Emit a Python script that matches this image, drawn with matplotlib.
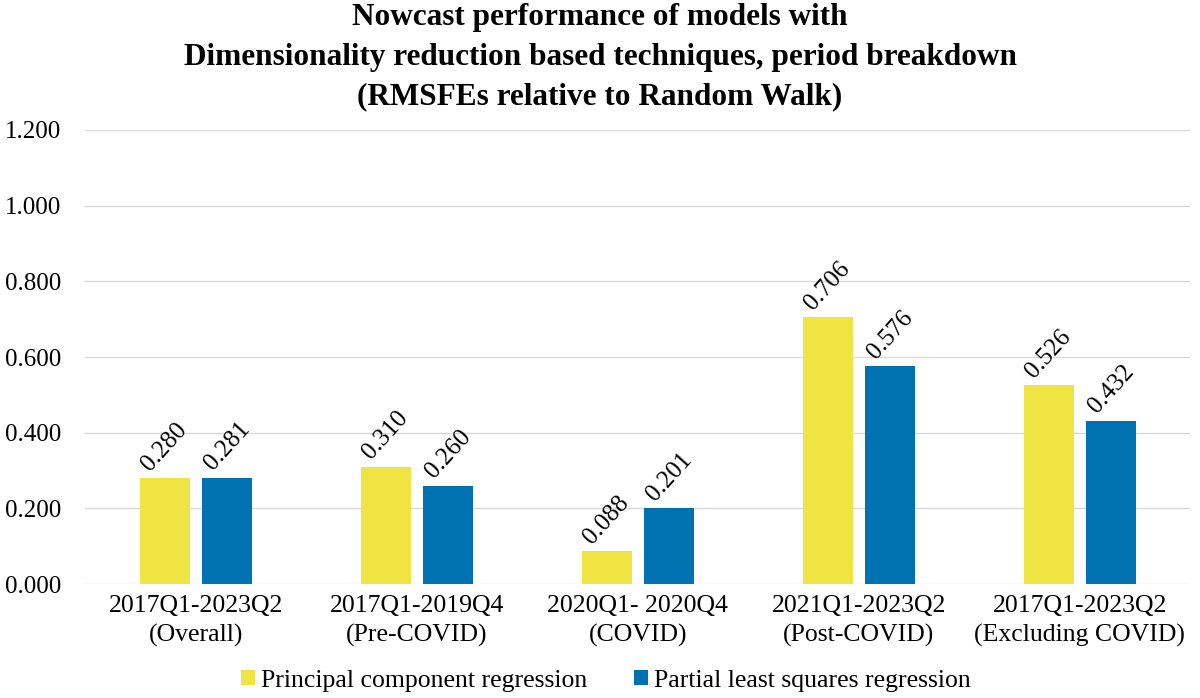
import numpy as np
import matplotlib.pyplot as plt

plt.rcParams["font.family"] = ["Liberation Serif", "DejaVu Serif"]

# DATA
periods = ["2017Q1-2023Q2\n(Overall)", "2017Q1-2019Q4\n(Pre-COVID)", "2020Q1- 2020Q4\n(COVID)",
           "2021Q1-2023Q2\n(Post-COVID)", "2017Q1-2023Q2\n(Excluding COVID)"]
pcr = [0.280, 0.310, 0.088, 0.706, 0.526]
pls = [0.281, 0.260, 0.201, 0.576, 0.432]
series_names = ["Principal component regression", "Partial least squares regression"]
yticks = [0.0, 0.2, 0.4, 0.6, 0.8, 1.0, 1.2]

fig = plt.figure(figsize=(12, 6.98), dpi=100)
ax = fig.add_axes([0.071, 0.163, 0.921, 0.651])

x = np.arange(len(periods))
w = 0.226
off = 0.141
b1 = ax.bar(x - off, pcr, w, color="#F0E442", label=series_names[0], zorder=3)
b2 = ax.bar(x + off, pls, w, color="#0072B2", label=series_names[1], zorder=3)

# rotated value labels above each bar
for bars, vals in [(b1, pcr), (b2, pls)]:
    for b, v in zip(bars, vals):
        ax.text(b.get_x() + b.get_width() / 2, v + 0.008, f"{v:.3f}", rotation=48,
                ha="center", va="bottom", fontsize=18)

ax.set_xlim(-0.5, len(periods) - 0.5)
ax.set_ylim(0, 1.2)
ax.set_yticks(yticks)
ax.set_yticklabels([f"{t:.3f}" for t in yticks], fontsize=18)
ax.set_xticks(x)
ax.set_xticklabels(periods, fontsize=18.5, linespacing=1.4)
ax.tick_params(length=0, pad=8)
ax.tick_params(axis="y", pad=57.5)
for t in ax.get_yticklabels():
    t.set_horizontalalignment("left")
ax.grid(axis="y", color="#D9D9D9", linewidth=1, zorder=0)
for s in ax.spines.values():
    s.set_visible(False)

fig.suptitle("Nowcast performance of models with\nDimensionality reduction based techniques, period breakdown\n(RMSFEs relative to Random Walk)",
             fontsize=22.5, fontweight="bold", y=0.995, linespacing=1.48)

fig.legend(loc="lower center", bbox_to_anchor=(0.505, -0.024), ncol=2, frameon=False, fontsize=18.5,
           handlelength=0.55, handleheight=0.55, handletextpad=0.25, columnspacing=1.8)

fig.savefig("out.png", dpi=100)
